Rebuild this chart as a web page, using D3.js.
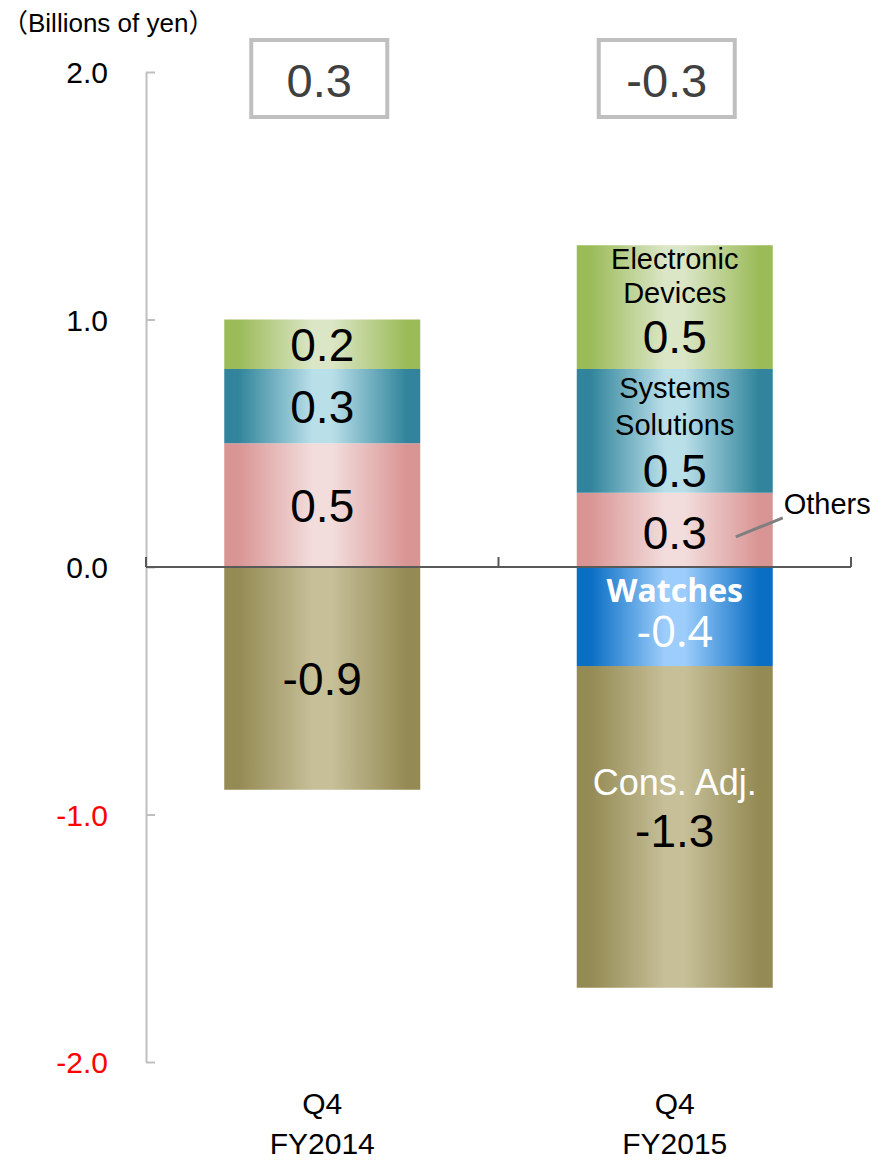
<!DOCTYPE html>
<html>
<head>
<meta charset="utf-8">
<script src="https://cdn.jsdelivr.net/npm/d3@7"></script>
<style>
  html, body { margin: 0; padding: 0; background: #fff; }
  svg { display: block; font-family: "Liberation Sans", Arial, "Noto Sans CJK JP", sans-serif; }
</style>
</head>
<body>
<svg id="chart" width="885" height="1160"></svg>
<script>
// ---- Data ----
const categories = ["Q4 FY2014", "Q4 FY2015"];
const catLine1 = ["Q4", "Q4"];
const catLine2 = ["FY2014", "FY2015"];
const seriesKeys = ["others", "systems", "electronic", "watches", "consAdj"];
const others = [0.5, 0.3];
const systems = [0.3, 0.5];
const electronic = [0.2, 0.5];
const watches = [0, -0.4];
const consAdj = [-0.9, -1.3];
const totals = [0.3, -0.3];
const yTicks = [-2, -1, 0, 1, 2];
const unitLabel = "（Billions of yen）";
const segmentNames = {
  electronic: ["Electronic", "Devices"],
  systems: ["Systems", "Solutions"],
  watches: ["Watches"],
  consAdj: ["Cons. Adj."]
};
const othersCallout = "Others";

// ---- Styles ----
const gradColors = {
  electronic: ["#9bbb59", "#dbe6c6"],
  systems: ["#31849b", "#b9dfe9"],
  others: ["#d99594", "#f2dddc"],
  watches: ["#0a6ec4", "#9dcdfb"],
  consAdj: ["#948a54", "#c6bf98"]
};

const fmt = v => d3.format(".1f")(v).replace("\u2212", "-");

const svg = d3.select("#chart");
const table = categories.map((c, i) => ({
  cat: c, others: others[i], systems: systems[i], electronic: electronic[i],
  watches: watches[i], consAdj: consAdj[i]
}));

const y = d3.scaleLinear().domain([-2, 2]).range([1062, 72]);
const x = d3.scaleBand().domain(categories).range([146, 851]).paddingInner(0.444).paddingOuter(0.222);

// gradients
const defs = svg.append("defs");
seriesKeys.forEach(k => {
  const g = defs.append("linearGradient").attr("id", "g-" + k).attr("x1", 0).attr("x2", 1).attr("y1", 0).attr("y2", 0);
  const [edge, light] = gradColors[k];
  [[0, edge], [0.07, edge], [0.45, light], [0.55, light], [0.93, edge], [1, edge]].forEach(([o, c]) =>
    g.append("stop").attr("offset", o).attr("stop-color", c));
});

// unit label
svg.append("text").attr("x", 2).attr("y", 32).attr("font-size", 26).attr("fill", "#000").text(unitLabel);

// y axis
const yAxis = d3.axisLeft(y).tickValues(yTicks).tickFormat(fmt)
  .tickSizeInner(-9).tickSizeOuter(0).tickPadding(38);
const gy = svg.append("g").attr("transform", "translate(146,0)").call(yAxis);
gy.select(".domain").attr("stroke", "#bfbfbf").attr("stroke-width", 2);
gy.selectAll(".tick line").attr("stroke", "#bfbfbf").attr("stroke-width", 2);
gy.selectAll(".tick text").attr("font-size", 30).attr("font-family", "Liberation Sans, Arial, sans-serif")
  .attr("fill", d => d < 0 ? "#ff0000" : "#000").attr("dy", "0.35em");

// stack
const stack = d3.stack().keys(seriesKeys).offset(d3.stackOffsetDiverging);
const stacked = stack(table);

const bars = svg.append("g");
stacked.forEach(s => {
  bars.selectAll(null).data(s.filter(d => d[1] !== d[0])).enter().append("rect")
    .attr("x", d => x(d.data.cat))
    .attr("width", x.bandwidth())
    .attr("y", d => y(Math.max(d[0], d[1])))
    .attr("height", d => Math.abs(y(d[0]) - y(d[1])))
    .attr("fill", "url(#g-" + s.key + ")");
});

// x axis line with boundary ticks (drawn over bars)
const gap = x.step() - x.bandwidth();
const bounds = categories.map(c => x(c) - gap / 2).concat([x(categories[categories.length - 1]) + x.bandwidth() + gap / 2]);
svg.append("line").attr("x1", bounds[0]).attr("x2", bounds[bounds.length - 1])
  .attr("y1", y(0)).attr("y2", y(0)).attr("stroke", "#595959").attr("stroke-width", 2);
svg.selectAll(null).data(bounds).enter().append("line")
  .attr("x1", d => d).attr("x2", d => d).attr("y1", y(0)).attr("y2", y(0) - 10)
  .attr("stroke", "#595959").attr("stroke-width", 2);

// labels within segments
const layout = {
  electronic: { names: [-38, -4], value: 46 },
  systems: { names: [-33, 4], value: 56 },
  watches: { names: [-14.5], value: 30.5 },
  consAdj: { names: [-32], value: 20 },
  others: { names: [], value: 19 }
};
const lab = svg.append("g").attr("text-anchor", "middle");
stacked.forEach(s => {
  s.forEach((d, i) => {
    if (d[1] === d[0]) return;
    const cx = x(d.data.cat) + x.bandwidth() / 2;
    const c = (y(d[0]) + y(d[1])) / 2;
    const val = d.data[s.key];
    const isWatch = s.key === "watches";
    if (i === 1) {
      const L = layout[s.key];
      const names = segmentNames[s.key] || [];
      names.forEach((n, j) => {
        const t = lab.append("text").attr("x", cx).attr("y", c + L.names[j]).text(n);
        if (isWatch) t.attr("font-family", "Open Sans, sans-serif").attr("font-weight", "bold").attr("font-size", 32).attr("fill", "#fff");
        else if (s.key === "consAdj") t.attr("font-size", 36).attr("fill", "#fff");
        else t.attr("font-size", 29).attr("fill", "#000");
      });
      const vt = lab.append("text").attr("x", cx).attr("y", c + L.value).text(fmt(val));
      if (isWatch) vt.attr("font-family", "Open Sans, sans-serif").attr("font-size", 44).attr("fill", "#fff");
      else vt.attr("font-size", 46).attr("fill", "#000");
    } else {
      lab.append("text").attr("x", cx).attr("y", c + 17).attr("font-size", 46).attr("fill", "#000")
        .text(fmt(val));
    }
  });
});

// Others callout (second category)
const oSeg = stacked.find(s => s.key === "others")[1];
const oCx = x(categories[1]) + x.bandwidth() / 2;
const oC = (y(oSeg[0]) + y(oSeg[1])) / 2;
svg.append("line").attr("x1", oCx + 61).attr("y1", oC + 7).attr("x2", oCx + 108).attr("y2", oC - 12)
  .attr("stroke", "#7f7f7f").attr("stroke-width", 3);
svg.append("text").attr("x", oCx + 109).attr("y", oC - 16).attr("font-size", 29).attr("fill", "#000").text(othersCallout);

// total boxes
const boxW = 136, boxH = 77;
const tb = svg.append("g");
categories.forEach((c, i) => {
  const cx = x(c) + x.bandwidth() / 2 - (i === 0 ? 3 : 8);
  tb.append("rect").attr("x", cx - boxW / 2).attr("y", 40).attr("width", boxW).attr("height", boxH)
    .attr("fill", "#fff").attr("stroke", "#bfbfbf").attr("stroke-width", 4);
  tb.append("text").attr("x", cx).attr("y", 97).attr("text-anchor", "middle").attr("font-size", 47)
    .attr("fill", "#404040").text(fmt(totals[i]));
});

// category labels
const cl = svg.append("g").attr("text-anchor", "middle").attr("font-size", 30).attr("fill", "#000");
categories.forEach((c, i) => {
  const cx = x(c) + x.bandwidth() / 2;
  cl.append("text").attr("x", cx).attr("y", 1114).text(catLine1[i]);
  cl.append("text").attr("x", cx).attr("y", 1154).text(catLine2[i]);
});
</script>
</body>
</html>
